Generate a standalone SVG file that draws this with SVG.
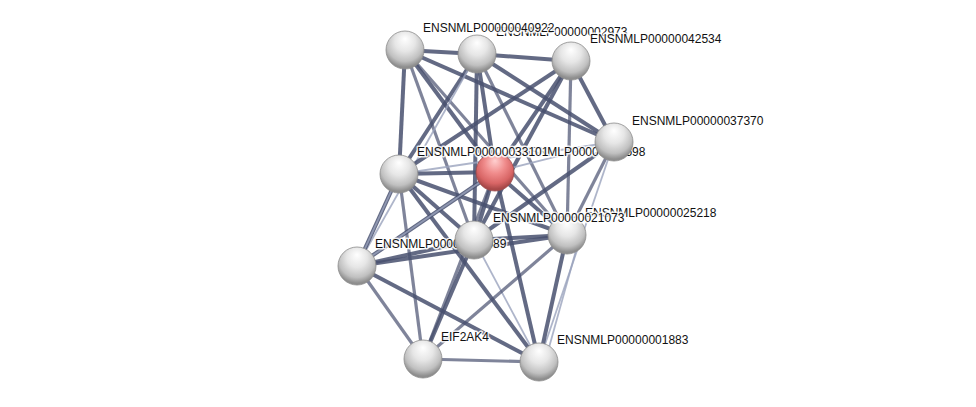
<svg xmlns="http://www.w3.org/2000/svg" width="976" height="407" viewBox="0 0 976 407">
<defs>
<radialGradient id="g" cx="50%" cy="35%" r="60%" fx="50%" fy="20%">
<stop offset="0" stop-color="#ffffff"/>
<stop offset="0.45" stop-color="#e6e6e6"/>
<stop offset="0.8" stop-color="#c0c0c0"/>
<stop offset="1" stop-color="#8e8e8e"/>
</radialGradient>
<radialGradient id="r" cx="50%" cy="35%" r="60%" fx="50%" fy="20%">
<stop offset="0" stop-color="#ffd0d0"/>
<stop offset="0.45" stop-color="#f08c8c"/>
<stop offset="0.8" stop-color="#d86565"/>
<stop offset="1" stop-color="#a84848"/>
</radialGradient>
</defs>
<style>
.e{stroke:#48506f;stroke-width:4;stroke-opacity:0.85;fill:none}
.t{stroke:#48506f;stroke-width:3.2;stroke-opacity:0.7}
.l{stroke:#9aa3bd;stroke-width:1.8;stroke-opacity:0.8}
.n{fill:url(#g);stroke:#8c8c8c;stroke-width:0.8}
.q{fill:url(#r);stroke:#9a4a4a;stroke-width:0.8}
text{font-family:"Liberation Sans",Arial,sans-serif;font-size:12px;fill:#111;stroke:#fff;stroke-width:3;stroke-opacity:0.85;paint-order:stroke;stroke-linejoin:round}
</style>
<rect width="976" height="407" fill="#fff"/>
<g id="edges">
<line class="e" x1="405" y1="50" x2="477" y2="54"/>
<line class="e" x1="405" y1="50" x2="399" y2="174"/>
<line class="e" x1="405" y1="50" x2="495" y2="172"/>
<line class="e" x1="405" y1="50" x2="614" y2="142"/>
<line class="t" x1="405" y1="50" x2="474" y2="240"/>
<line class="t" x1="405" y1="50" x2="567" y2="235"/>
<line class="e" x1="477" y1="54" x2="571" y2="61"/>
<line class="e" x1="477" y1="54" x2="399" y2="174"/>
<line class="e" x1="477" y1="54" x2="495" y2="172"/>
<line class="e" x1="477" y1="54" x2="474" y2="240"/>
<line class="e" x1="477" y1="54" x2="614" y2="142"/>
<line class="t" x1="477" y1="54" x2="567" y2="235"/>
<line class="l" x1="477" y1="54" x2="357" y2="266"/>
<line class="e" x1="571" y1="61" x2="399" y2="174"/>
<line class="e" x1="571" y1="61" x2="495" y2="172"/>
<line class="e" x1="571" y1="61" x2="614" y2="142"/>
<line class="e" x1="571" y1="61" x2="474" y2="240"/>
<line class="t" x1="571" y1="61" x2="567" y2="235"/>
<line class="l" x1="614" y1="142" x2="495" y2="172"/>
<line class="l" x1="614" y1="142" x2="399" y2="174"/>
<line class="e" x1="614" y1="142" x2="474" y2="240"/>
<line class="t" x1="614" y1="142" x2="567" y2="235"/>
<line class="l" x1="614" y1="142" x2="539" y2="362"/>
<line class="e" x1="495" y1="172" x2="399" y2="174"/>
<line class="e" x1="495" y1="172" x2="474" y2="240"/>
<line class="e" x1="495" y1="172" x2="567" y2="235"/>
<line class="e" x1="495" y1="172" x2="357" y2="266"/>
<line class="t" x1="495" y1="172" x2="423" y2="359"/>
<line class="e" x1="495" y1="172" x2="539" y2="362"/>
<line class="e" x1="399" y1="174" x2="474" y2="240"/>
<line class="e" x1="399" y1="174" x2="357" y2="266"/>
<line class="e" x1="399" y1="174" x2="567" y2="235"/>
<line class="t" x1="399" y1="174" x2="423" y2="359"/>
<line class="e" x1="399" y1="174" x2="539" y2="362"/>
<line class="l" x1="399" y1="174" x2="357" y2="266"/>
<line class="e" x1="474" y1="240" x2="357" y2="266"/>
<line class="e" x1="474" y1="240" x2="567" y2="235"/>
<line class="e" x1="474" y1="240" x2="423" y2="359"/>
<line class="l" x1="474" y1="240" x2="539" y2="362"/>
<line class="l" x1="495" y1="172" x2="357" y2="266"/>
<line class="e" x1="357" y1="266" x2="567" y2="235"/>
<line class="t" x1="357" y1="266" x2="423" y2="359"/>
<line class="e" x1="357" y1="266" x2="539" y2="362"/>
<line class="t" x1="567" y1="235" x2="423" y2="359"/>
<line class="e" x1="567" y1="235" x2="539" y2="362"/>
<line class="l" x1="580" y1="236" x2="545" y2="362"/>
<line class="t" x1="423" y1="359" x2="539" y2="362"/>
</g>
<g id="n_B"><circle class="n" cx="477" cy="54" r="19"/><text x="496" y="36">ENSNMLP00000002973</text></g>
<g id="n_A"><circle class="n" cx="405" cy="50" r="19"/><text x="423" y="32">ENSNMLP00000040922</text></g>
<g id="n_C"><circle class="n" cx="571" cy="61" r="19"/><text x="590" y="43">ENSNMLP00000042534</text></g>
<g id="n_E"><circle class="q" cx="495" cy="172" r="19"/><text x="514" y="156">ENSNMLP00000015598</text></g>
<g id="n_F"><circle class="n" cx="399" cy="174" r="19"/><text x="417" y="156">ENSNMLP00000033101</text></g>
<g id="n_D"><circle class="n" cx="614" cy="142" r="19"/><text x="632" y="125">ENSNMLP00000037370</text></g>
<g id="n_H"><circle class="n" cx="357" cy="266" r="19"/><text x="375" y="248">ENSNMLP00000044089</text></g>
<g id="n_I"><circle class="n" cx="567" cy="235" r="19"/><text x="585" y="217">ENSNMLP00000025218</text></g>
<g id="n_G"><circle class="n" cx="474" cy="240" r="19"/><text x="493" y="222">ENSNMLP00000021073</text></g>
<g id="n_J"><circle class="n" cx="423" cy="359" r="19"/><text x="441" y="341">EIF2AK4</text></g>
<g id="n_K"><circle class="n" cx="539" cy="362" r="19"/><text x="557" y="344">ENSNMLP00000001883</text></g>
</svg>
